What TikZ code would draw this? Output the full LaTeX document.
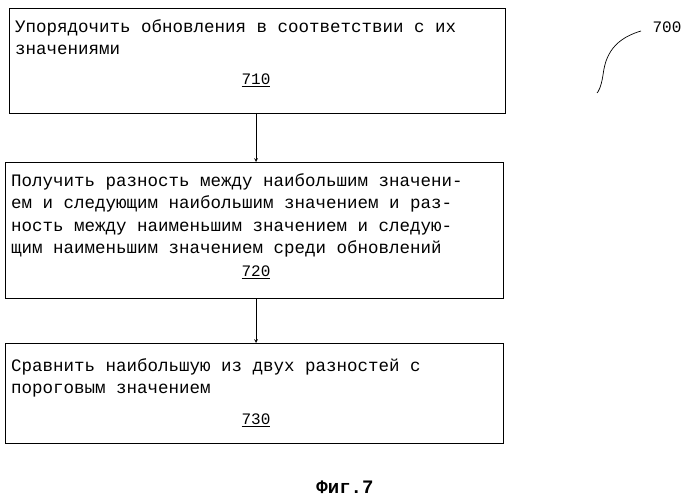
\documentclass[tikz,border=0pt]{standalone}
\usepackage{fontspec}
\setmainfont{Liberation Mono}
\begin{document}
\begin{tikzpicture}[x=1pt,y=1pt,
  box/.style={draw,line width=0.8pt},
  txt/.style={anchor=north west,align=left,font=\fontsize{17.5}{22.5}\selectfont,inner sep=0pt},
  num/.style={font=\fontsize{16}{18}\selectfont,inner sep=0pt},
  arr/.style={-stealth,line width=0.7pt}]
\useasboundingbox (0,0) rectangle (696,-500);
\draw[box] (9,-8) rectangle (505,-113);
\coordinate (b1) at (256,-113);
\draw[box] (5,-162) rectangle (503,-298);
\coordinate (b2t) at (256,-162);
\coordinate (b2) at (256,-298);
\draw[box] (5,-343) rectangle (503,-443);
\coordinate (b3t) at (256,-343);
\node[txt] (t1) at (15,-19) {Упорядочить обновления в соответствии с их\\значениями};
\node[num] (n1) at (256,-80) {\underline{710}};
\node[txt] (t2) at (11,-173) {Получить разность между наибольшим значени-\\ем и следующим наибольшим значением и раз-\\ность между наименьшим значением и следую-\\щим наименьшим значением среди обновлений};
\node[num] (n2) at (256,-272) {\underline{720}};
\node[txt] (t3) at (11,-358) {Сравнить наибольшую из двух разностей с\\пороговым значением};
\node[num] (n3) at (256,-420) {\underline{730}};
\draw[arr] (b1) -- (b2t);
\draw[arr] (b2) -- (b3t);
\node[num] (l700) at (667,-27) {700};
\draw[line width=0.7pt] (641,-31) .. controls (610,-40) and (605,-60) .. (603,-75) .. controls (601,-88) and (598,-92) .. (597,-93);
\node[font=\fontsize{19}{22}\selectfont\bfseries] (fig) at (345,-487) {Фиг.7};
\end{tikzpicture}
\end{document}
